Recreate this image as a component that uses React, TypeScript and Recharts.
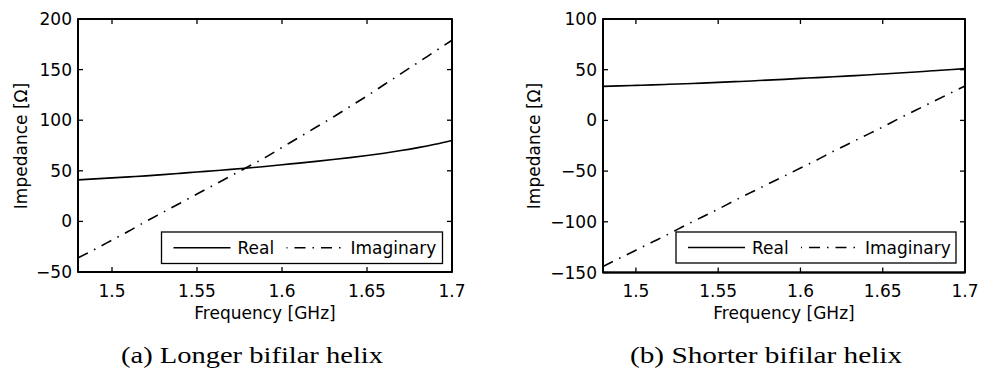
import { LineChart, Line, XAxis, YAxis } from 'recharts';

// ── Data ────────────────────────────────────────────────────────────────

const FREQ = [
  1.48, 1.49, 1.5, 1.51, 1.52, 1.53, 1.54, 1.55, 1.56, 1.57, 1.58, 1.59,
  1.6, 1.61, 1.62, 1.63, 1.64, 1.65, 1.66, 1.67, 1.68, 1.69, 1.7,
];

// (a) longer bifilar helix
const LONG_REAL = [
  41, 42, 43, 44, 45, 46.2, 47.5, 48.8, 50.1, 51.4, 52.8, 54.3,
  56, 57.6, 59.3, 61.1, 63, 65.1, 67.4, 70, 72.9, 76.2, 80,
];
const LONG_IMAG = [
  -36, -27.5, -18.5, -9.5, 0, 9, 18, 27, 36, 45, 54, 63,
  73, 83, 93, 103, 113.5, 124, 135, 146, 157, 168, 179,
];

// (b) shorter bifilar helix
const SHORT_REAL = [
  33.6, 34, 34.5, 35, 35.6, 36.2, 36.8, 37.5, 38.2, 38.9, 39.7, 40.5,
  41.4, 42.2, 43, 43.9, 44.8, 45.8, 46.8, 47.8, 48.9, 50, 51.1,
];
const SHORT_IMAG = [
  -144, -136, -128, -120, -112, -103.5, -95.5, -87.5, -79, -71, -63, -55,
  -47, -39, -30.5, -22.5, -14.5, -6.5, 2, 10, 18, 26, 34,
];

const FREQ_TICKS = [1.5, 1.55, 1.6, 1.65, 1.7];
const LONG_Y_TICKS = [-50, 0, 50, 100, 150, 200];
const SHORT_Y_TICKS = [-150, -100, -50, 0, 50, 100];

const SERIES_NAMES = ['Real', 'Imaginary'];
const CAPTIONS = ['(a) Longer bifilar helix', '(b) Shorter bifilar helix'];
const X_TITLE = 'Frequency [GHz]';
const Y_TITLE = 'Impedance [Ω]';

// ── Styles ──────────────────────────────────────────────────────────────

const SANS = '"DejaVu Sans", sans-serif';
const SERIF = '"Liberation Serif", serif';
const INK = '#000';
const DASH_DOT = '11 7 1.5 7';
const TICK_LEN = 5;

const minus = (v: number) => String(v).replace('-', '\u2212');

// top / right axes only carry inward tick marks, no labels
type TickArgs = { x?: number; y?: number };
function TopTick({ x = 0, y = 0 }: TickArgs) {
  return <line x1={x} y1={y} x2={x} y2={y + TICK_LEN} stroke={INK} strokeWidth={1.3} />;
}
function RightTick({ x = 0, y = 0 }: TickArgs) {
  return <line x1={x} y1={y} x2={x - TICK_LEN} y2={y} stroke={INK} strokeWidth={1.3} />;
}

// ── One panel ───────────────────────────────────────────────────────────

interface PanelProps {
  width: number;
  left: number;
  margin: { top: number; right: number; bottom: number; left: number };
  real: number[];
  imag: number[];
  yTicks: number[];
}

function Panel({ width, left, margin, real, imag, yTicks }: PanelProps) {
  const rows = FREQ.map((f, i) => ({ f, re: real[i], im: imag[i] }));
  const yDomain = [yTicks[0], yTicks[yTicks.length - 1]];
  return (
    <LineChart
      width={width} height={372} data={rows} margin={margin}
      style={{ position: 'absolute', left, top: 0 }}
    >
      <XAxis
        xAxisId="b" dataKey="f" type="number" domain={[1.48, 1.7]} ticks={FREQ_TICKS}
        height={30} tickSize={-TICK_LEN} tickMargin={17.5}
        axisLine={{ stroke: INK, strokeWidth: 2 }}
        tickLine={{ stroke: INK, strokeWidth: 1.3 }}
        tick={{ fontFamily: SANS, fontSize: 17, fill: INK }}
      />
      <XAxis
        xAxisId="t" orientation="top" dataKey="f" type="number" domain={[1.48, 1.7]} ticks={FREQ_TICKS}
        height={1} tickSize={0} tickMargin={0}
        axisLine={{ stroke: INK, strokeWidth: 2 }} tickLine={false} tick={TopTick as any}
      />
      <YAxis
        yAxisId="l" type="number" domain={yDomain} ticks={yTicks} width={60}
        tickSize={-TICK_LEN} tickMargin={11} tickFormatter={minus}
        axisLine={{ stroke: INK, strokeWidth: 2 }}
        tickLine={{ stroke: INK, strokeWidth: 1.3 }}
        tick={{ fontFamily: SANS, fontSize: 17, fill: INK }}
      />
      <YAxis
        yAxisId="r" orientation="right" type="number" domain={yDomain} ticks={yTicks} width={1}
        tickSize={0} tickMargin={0}
        axisLine={{ stroke: INK, strokeWidth: 2 }} tickLine={false} tick={RightTick as any}
      />
      {/* real on the top/right pair, imaginary on bottom/left: same domains, so same positions */}
      <Line
        xAxisId="t" yAxisId="r" type="monotone" dataKey="re" stroke={INK} strokeWidth={1.6}
        dot={false} isAnimationActive={false}
      />
      <Line
        xAxisId="b" yAxisId="l" type="monotone" dataKey="im" stroke={INK} strokeWidth={1.6}
        strokeDasharray={DASH_DOT} dot={false} isAnimationActive={false}
      />
    </LineChart>
  );
}

// ── Legend box, frames, titles, captions (drawn over the charts) ────────

function LegendBox({ x, y, w, h }: { x: number; y: number; w: number; h: number }) {
  const cy = y + h / 2;
  const sample = 57;
  const x1 = x + 12;
  const x2 = x1 + sample + 7 + 38 + 11;
  return (
    <g>
      <rect x={x} y={y} width={w} height={h} fill="#fff" stroke={INK} strokeWidth={1.3} />
      <line x1={x1} y1={cy} x2={x1 + sample} y2={cy} stroke={INK} strokeWidth={1.6} />
      <text x={x1 + sample + 7} y={cy + 6} fontFamily={SANS} fontSize={17}>{SERIES_NAMES[0]}</text>
      <line x1={x2} y1={cy} x2={x2 + sample} y2={cy} stroke={INK} strokeWidth={1.6} strokeDasharray={DASH_DOT} strokeDashoffset={-8} />
      <text x={x2 + sample + 7} y={cy + 6} fontFamily={SANS} fontSize={17}>{SERIES_NAMES[1]}</text>
    </g>
  );
}

function Overlay() {
  return (
    <svg width={981} height={372} style={{ position: 'absolute', left: 0, top: 0, pointerEvents: 'none' }}>
      {/* plot box frames, same rectangles the axes span */}
      <rect x={78} y={19} width={374} height={253} fill="none" stroke={INK} strokeWidth={1.8} />
      <rect x={603} y={19} width={362} height={253.5} fill="none" stroke={INK} strokeWidth={1.8} />

      <LegendBox x={161.5} y={232} w={281} h={31.5} />
      <LegendBox x={676} y={232} w={280} h={31} />

      <text transform="translate(26.5,146) rotate(-90)" textAnchor="middle" fontFamily={SANS} fontSize={17}>{Y_TITLE}</text>
      <text transform="translate(540,146) rotate(-90)" textAnchor="middle" fontFamily={SANS} fontSize={17}>{Y_TITLE}</text>

      <text x={265} y={319} textAnchor="middle" fontFamily={SANS} fontSize={17}>{X_TITLE}</text>
      <text x={784} y={319} textAnchor="middle" fontFamily={SANS} fontSize={17}>{X_TITLE}</text>

      <text x={252} y={362.5} textAnchor="middle" fontFamily={SERIF} fontSize={24} textLength={262} lengthAdjust="spacingAndGlyphs">{CAPTIONS[0]}</text>
      <text x={766} y={362.5} textAnchor="middle" fontFamily={SERIF} fontSize={24} textLength={272} lengthAdjust="spacingAndGlyphs">{CAPTIONS[1]}</text>
    </svg>
  );
}

export default function App() {
  return (
    <div style={{ position: 'absolute', left: 0, top: 0, width: 981, height: 372, background: '#fff', overflow: 'hidden' }}>
      <Panel
        width={490} left={0}
        margin={{ top: 18, right: 37, bottom: 70, left: 18 }}
        real={LONG_REAL} imag={LONG_IMAG} yTicks={LONG_Y_TICKS}
      />
      <Panel
        width={491} left={490}
        margin={{ top: 18, right: 15, bottom: 69.5, left: 53 }}
        real={SHORT_REAL} imag={SHORT_IMAG} yTicks={SHORT_Y_TICKS}
      />
      <Overlay />
    </div>
  );
}
